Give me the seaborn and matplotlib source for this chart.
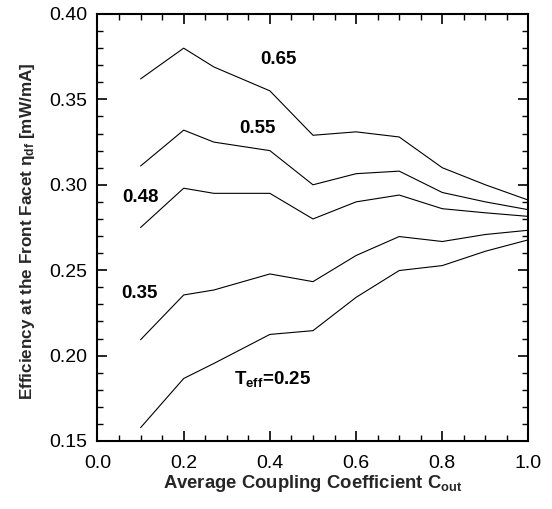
import numpy as np
import pandas as pd
import matplotlib
matplotlib.use("Agg")
import matplotlib.pyplot as plt
from matplotlib.ticker import MultipleLocator
import seaborn as sns

# Average coupling coefficient C_out (sample points)
c_out = [0.1, 0.2, 0.27, 0.4, 0.5, 0.6, 0.7, 0.8, 0.9, 1.0]

# Front-facet efficiency [mW/mA] for each effective transmission T_eff
eff_065 = [0.362, 0.380, 0.369, 0.355, 0.329, 0.331, 0.328, 0.310, 0.300, 0.291]
eff_055 = [0.311, 0.332, 0.325, 0.320, 0.300, 0.3065, 0.308, 0.2955, 0.290, 0.2854]
eff_048 = [0.275, 0.298, 0.295, 0.295, 0.280, 0.290, 0.294, 0.286, 0.2836, 0.2815]
eff_035 = [0.2093, 0.2355, 0.2384, 0.2478, 0.2433, 0.2586, 0.2697, 0.2668, 0.2709, 0.2734]
eff_025 = [0.1578, 0.1866, 0.1954, 0.2124, 0.2146, 0.2341, 0.2498, 0.2527, 0.2611, 0.2678]

t_eff = ["0.65", "0.55", "0.48", "0.35", "0.25"]
series = [eff_065, eff_055, eff_048, eff_035, eff_025]

# curve labels placed in the plot
label_text = ["0.65", "0.55", "0.48", "0.35", "T$_{\\mathbf{eff}}$=0.25"]
label_x = [0.419, 0.372, 0.099, 0.097, 0.407]
label_y = [0.3736, 0.333, 0.2925, 0.2365, 0.1864]

rows = []
for t, vals in zip(t_eff, series):
    for c, v in zip(c_out, vals):
        rows.append({"C_out": c, "eff": v, "T_eff": t})
df = pd.DataFrame(rows)

sns.set_theme(style="ticks")
plt.rcParams['font.family'] = ['Liberation Sans', 'DejaVu Sans']
plt.rcParams['mathtext.fontset'] = 'custom'
plt.rcParams['mathtext.rm'] = 'Liberation Sans'
plt.rcParams['mathtext.bf'] = 'Liberation Sans:bold'
plt.rcParams['mathtext.it'] = 'Liberation Sans:italic'

fig = plt.figure(figsize=(5.52, 5.09), dpi=100)
ax = fig.add_axes([0.1766, 0.1336, 0.7808, 0.8389])

sns.lineplot(data=df, x="C_out", y="eff", hue="T_eff", units="T_eff",
             estimator=None, palette=["black"] * len(t_eff), legend=False,
             linewidth=0.8, ax=ax)

for txt, lx, ly in zip(label_text, label_x, label_y):
    ax.text(lx, ly, txt, ha="center", va="center", fontsize=13.5,
            fontweight="bold", color="black")

ax.set_xlim(0.0, 1.0)
ax.set_ylim(0.15, 0.40)
ax.xaxis.set_major_locator(MultipleLocator(0.2))
ax.xaxis.set_minor_locator(MultipleLocator(0.05))
ax.yaxis.set_major_locator(MultipleLocator(0.05))
ax.yaxis.set_minor_locator(MultipleLocator(0.01))
ax.xaxis.set_major_formatter(plt.FormatStrFormatter('%.1f'))
ax.yaxis.set_major_formatter(plt.FormatStrFormatter('%.2f'))
ax.tick_params(which="both", direction="in", top=True, right=True,
               labelsize=14, colors="black")
ax.tick_params(axis="x", which="major", pad=10)
ax.tick_params(axis="y", which="major", pad=7.5)
ax.tick_params(which="major", length=7, width=1.2)
ax.tick_params(which="minor", length=4, width=1.0)
for sp in ax.spines.values():
    sp.set_linewidth(1.5)
    sp.set_color("black")

ax.set_xlabel("Average Coupling Coefficient C$_{\\mathbf{out}}$",
              fontsize=13.3, fontweight="bold", labelpad=1)
ax.set_ylabel("Efficiency at the Front Facet $\\mathbf{\\eta_{df}}$ [mW/mA]",
              fontsize=12.3, fontweight="bold", labelpad=6)
ax.yaxis.set_label_coords(-0.14, 0.49)

fig.savefig("out.png", dpi=100)
